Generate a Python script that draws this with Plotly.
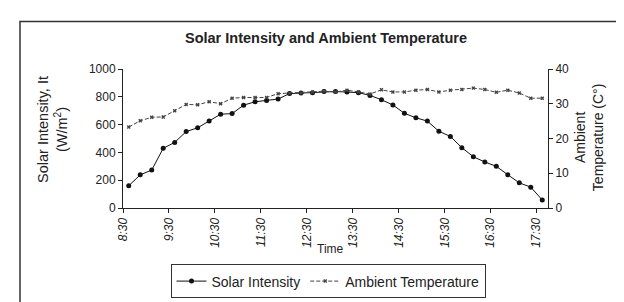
import plotly.graph_objects as go

# ---- data ----
times = []
for h in range(8, 18):
    for m in (0, 15, 30, 45):
        t = h * 60 + m
        if 8 * 60 + 30 <= t <= 17 * 60 + 30:
            times.append(f"{h}:{m:02d}")

solar_intensity = [160, 239, 273, 429, 472, 550, 577, 625, 675, 679, 740, 764, 773, 784,
                   823, 828, 830, 838, 838, 834, 830, 810, 779, 741, 681, 649, 625, 552,
                   515, 434, 369, 331, 300, 239, 181, 150, 58]
ambient_temp = [23.3, 25.1, 26.1, 26.2, 28.0, 29.8, 29.7, 30.6, 30.0, 31.6, 31.8, 31.8, 31.8,
                32.9, 33.1, 33.1, 33.3, 33.6, 33.4, 33.9, 33.4, 32.8, 34.0, 33.4, 33.4, 33.9,
                34.1, 33.4, 33.9, 34.1, 34.5, 34.1, 33.3, 33.9, 33.1, 31.6, 31.6]
tick_every = 4

idx = list(range(len(times)))
tickvals = [i - 0.5 for i in idx[::tick_every]]
ticktext = [f"<i>{times[i]}</i>" for i in idx[::tick_every]]

FONT = "Liberation Sans, Arial, sans-serif"
INK = "#222222"

fig = go.Figure()
fig.add_trace(go.Scatter(
    x=idx, y=solar_intensity, name="Solar Intensity", mode="lines+markers",
    line=dict(color="#111111", width=1),
    marker=dict(symbol="circle", size=5, color="#111111"),
    yaxis="y"))
fig.add_trace(go.Scatter(
    x=idx, y=ambient_temp, name="Ambient Temperature", mode="lines+markers",
    line=dict(color="#444444", width=1, dash="4px,2px"),
    marker=dict(symbol="x", size=3.5, color="#444444"),
    yaxis="y2"))

W, H = 624, 302
L, R, T, B = 115, 84, 61, 86
pw, ph = W - L - R, H - T - B

def px(xp):
    return (xp - L) / pw

def py(yp):
    return (H - B - yp) / ph

fig.update_layout(
    width=W, height=H,
    margin=dict(l=L, r=R, t=T, b=B, pad=0),
    paper_bgcolor="white", plot_bgcolor="white",
    font=dict(family=FONT, size=12, color=INK),
    title=dict(text="<b>Solar Intensity and Ambient Temperature</b>",
               x=318 / W, xanchor="center", y=1 - 30 / H, yanchor="middle",
               font=dict(family=FONT, size=14.5, color=INK)),
    xaxis=dict(range=[-0.5, 36.5], tickmode="array", tickvals=tickvals, ticktext=ticktext,
               tickangle=-90, ticks="outside", ticklen=4, tickcolor=INK,
               showline=True, linecolor=INK, linewidth=1, showgrid=False, zeroline=False,
               tickfont=dict(size=12, color=INK)),
    yaxis=dict(range=[0, 1000], dtick=200, ticks="outside", ticklen=4, tickcolor=INK,
               showline=True, linecolor=INK, linewidth=1, showgrid=False, zeroline=False,
               tickfont=dict(size=12, color=INK)),
    yaxis2=dict(range=[0, 40], dtick=10, overlaying="y", side="right", ticks="outside",
                ticklen=4, tickcolor=INK, showline=True, linecolor=INK, linewidth=1,
                showgrid=False, zeroline=False, tickfont=dict(size=12, color=INK)),
    showlegend=True,
    legend=dict(orientation="h", x=px(320), xanchor="center", y=py(279), yanchor="top",
                bordercolor="#333333", borderwidth=1, font=dict(size=14, color=INK),
                bgcolor="white", itemwidth=30),
)

fig.add_annotation(text="Solar Intensity, It<br>(W/m<sup>2</sup>)", xref="paper", yref="paper",
                   x=px(45), y=py(129), textangle=-90, showarrow=False,
                   xanchor="center", yanchor="middle", font=dict(size=14.5, color=INK))
fig.add_annotation(text="Ambient<br>Temperature (C°)", xref="paper", yref="paper",
                   x=px(581), y=py(137), textangle=-90, showarrow=False,
                   xanchor="center", yanchor="middle", font=dict(size=14, color=INK))
fig.add_annotation(text="Time", xref="paper", yref="paper", x=px(322), y=py(262),
                   showarrow=False, xanchor="center", yanchor="middle",
                   font=dict(size=12, color=INK))

fig.add_shape(type="rect", xref="paper", yref="paper",
              x0=px(12), x1=px(619), y0=py(330), y1=py(8),
              line=dict(color="#333333", width=1.5), fillcolor="rgba(0,0,0,0)", layer="below")

fig.write_html("out.html")
